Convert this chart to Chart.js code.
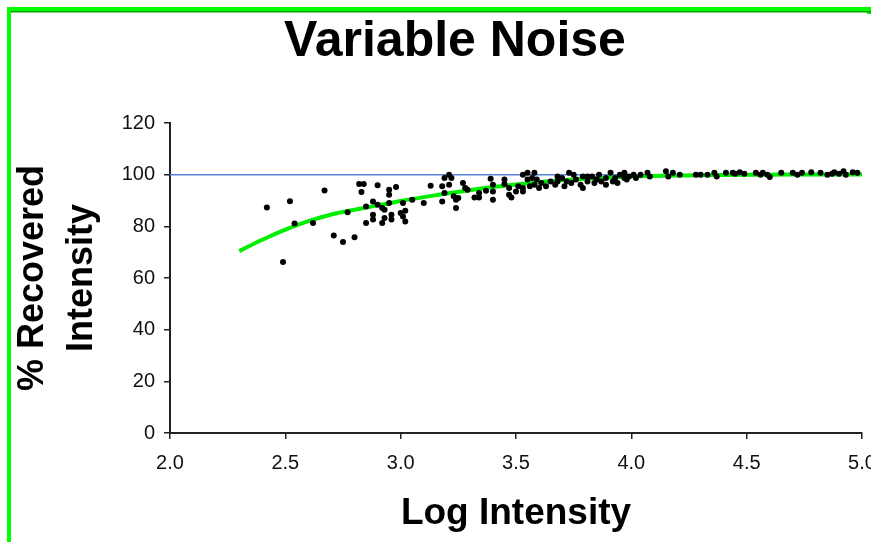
<!DOCTYPE html>
<html>
<head>
<meta charset="UTF-8">
<title>Variable Noise</title>
<script src="https://cdn.jsdelivr.net/npm/chart.js@4/dist/chart.umd.min.js"></script>
<style>
  html, body { margin: 0; padding: 0; background: #fff; }
  #wrap { width: 871px; height: 542px; position: relative; }
</style>
</head>
<body>
<div id="wrap"><canvas id="chart"></canvas></div>
<script>
// --- data ---
const scatterX = [
  2.42, 2.52, 2.67, 2.54, 2.62, 2.71, 2.75, 2.49, 2.77, 2.80,
  2.82, 2.84, 2.83, 2.90, 2.98, 2.95, 2.95, 2.95, 2.88, 2.85,
  2.90, 2.92, 2.93, 2.88, 2.88, 2.93, 2.92, 2.96, 2.96, 3.01,
  3.00, 3.02, 3.01, 3.02, 3.05, 3.13, 3.10, 2.85, 3.18, 3.19,
  3.21, 3.22, 3.21, 3.19, 3.23, 3.18, 3.24, 3.25, 3.24, 3.27,
  3.28, 3.29,
  3.32, 3.34, 3.34, 3.37, 3.39, 3.40, 3.40, 3.40, 3.45, 3.45,
  3.47, 3.47, 3.48, 3.50, 3.51, 3.53, 3.53, 3.53, 3.55, 3.58,
  3.55, 3.57, 3.56, 3.58, 3.59, 3.60, 3.61, 3.63, 3.65, 3.67,
  3.68, 3.68, 3.70, 3.71, 3.72, 3.73, 3.74, 3.75, 3.76, 3.78,
  3.79, 3.79, 3.81, 3.81,
  3.83, 3.84, 3.85, 3.86, 3.87, 3.89, 3.89, 3.91, 3.92, 3.93,
  3.94, 3.95, 3.97, 3.97, 3.98, 3.99, 4.01, 4.02, 4.04, 4.07,
  4.08, 4.15, 4.16, 4.18, 4.21, 4.28, 4.30, 4.33, 4.36, 4.37,
  4.41,
  4.44, 4.45, 4.47, 4.49, 4.54, 4.56, 4.57, 4.59, 4.60, 4.65,
  4.70, 4.72, 4.74, 4.78, 4.82, 4.85, 4.87, 4.88, 4.90, 4.92,
  4.93, 4.96, 4.98
];
const scatterY = [
  87.3, 89.7, 93.9, 81.1, 81.3, 76.5, 73.9, 66.2, 85.5, 75.8,
  96.4, 96.4, 93.3, 95.9, 95.2, 94.2, 92.2, 89.0, 89.6, 87.7,
  88.4, 87.1, 86.4, 84.5, 82.6, 83.2, 81.3, 84.5, 82.6, 89.0,
  85.2, 86.0, 83.8, 81.9, 90.3, 95.7, 89.0, 81.3, 95.5, 98.7,
  100.0, 98.7, 96.1, 92.9, 91.6, 89.6, 90.3, 91.0, 87.1, 96.8,
  94.8, 94.2,
  91.2, 91.2, 92.9, 93.8, 98.4, 90.3, 96.1, 93.5, 98.1, 96.4,
  94.8, 92.2, 91.2, 93.5, 95.5, 93.5, 94.8, 100.0, 100.7, 100.7,
  98.1, 98.7, 95.5, 96.1, 98.1, 94.8, 96.8, 95.5, 97.4, 96.1,
  97.4, 99.3, 98.7, 95.5, 97.4, 100.7, 96.8, 100.0, 98.1, 96.1,
  99.3, 94.8, 97.4, 99.3,
  99.3, 96.8, 98.1, 100.0, 97.4, 96.1, 98.7, 100.7, 97.4, 98.7,
  96.8, 100.0, 98.7, 100.7, 98.1, 99.3, 100.0, 98.7, 100.0, 100.7,
  99.3, 101.3, 99.3, 100.7, 100.0, 100.0, 100.0, 100.0, 100.7, 99.3,
  100.7,
  100.7, 100.4, 100.9, 100.4, 100.7, 100.0, 100.7, 100.0, 99.1, 100.7,
  100.7, 100.0, 100.7, 100.9, 100.7, 100.0, 100.4, 100.9, 100.4, 101.3,
  100.0, 100.9, 100.7
];

// green fitted curve
const fitX = [2.3, 2.4, 2.5, 2.6, 2.7, 2.8, 2.9, 3.0, 3.1, 3.2, 3.3, 3.4, 3.5, 3.6, 3.7, 3.8, 3.9, 4.0, 4.2, 4.4, 4.6, 4.8, 5.0];
const fitY = [70.4, 74.8, 78.7, 82.0, 84.6, 86.4, 88.1, 89.8, 91.3, 92.7, 94.0, 95.2, 96.2, 97.1, 97.8, 98.4, 98.9, 99.3, 99.7, 99.9, 100.0, 100.1, 100.1];

// blue 100% reference line
const refX = [2.0, 5.0];
const refY = [100, 100];

const xTitle = 'Log Intensity';
const yTitle = ['% Recovered', 'Intensity'];
const chartTitle = 'Variable Noise';

const toPoints = (xs, ys) => xs.map((x, i) => ({ x: x, y: ys[i] }));

// frame + title drawn straight on the canvas
const framePlugin = {
  id: 'frame',
  beforeDraw(chart) {
    const ctx = chart.ctx;
    ctx.save();
    ctx.fillStyle = '#ffffff';
    ctx.fillRect(0, 0, chart.width, chart.height);
    ctx.fillStyle = '#00ff00';
    ctx.fillRect(7, 7, chart.width - 7, 4);
    ctx.fillRect(7, 7, 4, chart.height - 7);
    ctx.fillRect(chart.width - 4, 7, 4, 7);
    ctx.fillStyle = '#00a000';
    ctx.fillRect(11, 11, chart.width - 11, 1.5);
    ctx.restore();
  },
  afterDraw(chart) {
    const ctx = chart.ctx;
    ctx.save();
    ctx.fillStyle = '#000';
    ctx.font = 'bold 50px "Liberation Sans", Arial, sans-serif';
    ctx.textAlign = 'center';
    ctx.textBaseline = 'alphabetic';
    ctx.fillText(chartTitle, 455, 56);
    ctx.restore();
  }
};

const tickFont = { family: '"Liberation Sans", Arial, sans-serif', size: 20 };

new Chart(document.getElementById('chart'), {
  type: 'scatter',
  data: {
    datasets: [
      {
        label: 'data',
        data: toPoints(scatterX, scatterY),
        showLine: false,
        pointRadius: 3,
        pointHoverRadius: 3,
        pointBackgroundColor: '#000',
        pointBorderColor: '#000',
        pointBorderWidth: 0,
        order: 1
      },
      {
        label: 'fit',
        data: toPoints(fitX, fitY),
        showLine: true,
        borderColor: '#00ee00',
        borderWidth: 4,
        pointRadius: 0,
        cubicInterpolationMode: 'monotone',
        order: 2
      },
      {
        label: '100%',
        data: toPoints(refX, refY),
        showLine: true,
        borderColor: '#5b82d9',
        borderWidth: 1.5,
        pointRadius: 0,
        order: 3
      }
    ]
  },
  options: {
    responsive: true,
    maintainAspectRatio: false,
    animation: false,
    events: [],
    layout: { padding: { top: 123, right: 9, bottom: 0, left: 0 } },
    plugins: {
      legend: { display: false },
      tooltip: { enabled: false },
      title: { display: false }
    },
    scales: {
      x: {
        type: 'linear',
        min: 2,
        max: 5,
        ticks: {
          stepSize: 0.5,
          color: '#111',
          font: tickFont,
          padding: 12,
          maxRotation: 0,
          callback: v => Number(v).toFixed(1)
        },
        grid: { drawOnChartArea: false, drawTicks: true, tickLength: 6, color: '#222', lineWidth: 1.5 },
        border: { display: true, color: '#222', width: 2 },
        title: {
          display: true,
          text: xTitle,
          color: '#000',
          font: { family: '"Liberation Sans", Arial, sans-serif', size: 37, weight: 'bold', lineHeight: 1.2 },
          padding: { top: 0, bottom: 6 }
        },
        afterFit(s) {
          s.height = 109;
          s.paddingLeft = 0;
          s.paddingRight = 0;
        }
      },
      y: {
        min: 0,
        max: 120,
        ticks: {
          stepSize: 20,
          color: '#111',
          font: tickFont,
          padding: 9
        },
        grid: { drawOnChartArea: false, drawTicks: true, tickLength: 6, color: '#222', lineWidth: 1.5 },
        border: { display: true, color: '#222', width: 2 },
        title: {
          display: true,
          text: yTitle,
          color: '#000',
          font: { family: '"Liberation Sans", Arial, sans-serif', size: 36, weight: 'bold', lineHeight: 1.35 },
          padding: { top: 9, bottom: 0 }
        },
        afterFit(s) {
          s.width = 170;
          s.paddingTop = 0;
          s.paddingBottom = 0;
        }
      }
    }
  },
  plugins: [framePlugin]
});
</script>
</body>
</html>
